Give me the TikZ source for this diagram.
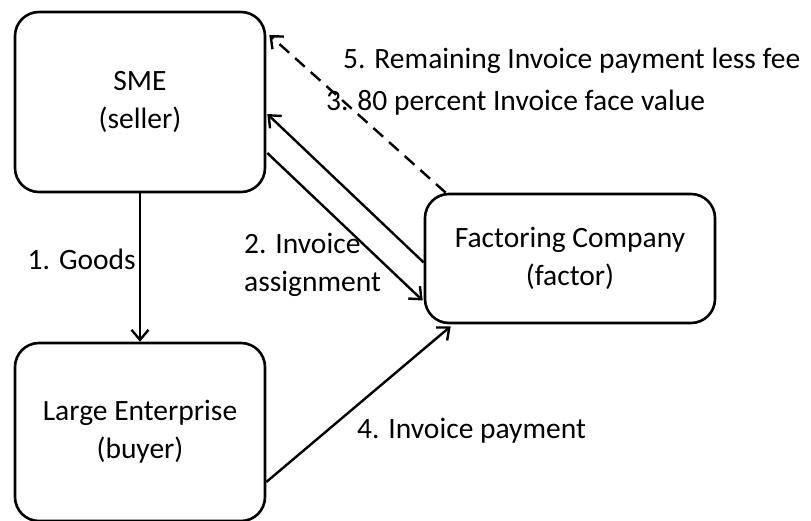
\documentclass[tikz,border=0pt]{standalone}
\usepackage{fontspec}
\setmainfont{Carlito}
\usetikzlibrary{arrows.meta,calc}
\begin{document}
\begin{tikzpicture}[x=1pt,y=-1pt,
  box/.style={draw,line width=2.6pt,rounded corners=24pt,align=center,inner sep=0pt,
    font=\fontsize{29.5}{38}\selectfont},
  lbl/.style={inner sep=0pt,font=\fontsize{29.5}{38}\selectfont},
  conn/.style={line width=2.4pt,-{Straight Barb[length=10pt,width=17pt,line width=2.4pt]}}]
\useasboundingbox (0,0) rectangle (811,520);
\node[box,minimum width=250pt,minimum height=180pt] (sme) at (140,102) {SME\\(seller)};
\node[box,minimum width=250pt,minimum height=178pt] (le) at (140,432) {Large Enterprise\\(buyer)};
\node[box,minimum width=290pt,minimum height=129pt] (fac) at (570,258.5) {Factoring Company\\(factor)};
\coordinate (s5) at ($(fac.north west)+(22,0)$);
\coordinate (e5) at ($(sme.east)+(3,-67)$);
\coordinate (s3) at ($(fac.west)+(0,4)$);
\coordinate (e3) at ($(sme.east)+(1,12)$);
\coordinate (s2) at ($(sme.east)+(1,51)$);
\coordinate (e2) at ($(fac.west)+(-1,42)$);
\coordinate (s4) at ($(le.east)+(0,50)$);
\coordinate (e4) at ($(fac.south west)+(27,2)$);
\draw[conn] (sme.south) -- (le.north);
\draw[conn,dash pattern=on 13pt off 8pt] (s5) -- (e5);
\draw[conn] (s3) -- (e3);
\draw[conn] (s2) -- (e2);
\draw[conn] (s4) -- (e4);
\node[lbl,anchor=east] (l1) at (136,259) {1. Goods};
\node[lbl,anchor=west,align=left] (l2) at (244,265) {2. Invoice\\assignment};
\node[lbl,anchor=west] (l3) at (326,103) {3. 80 percent Invoice face value};
\node[lbl,anchor=west] (l4) at (357,431) {4. Invoice payment};
\node[lbl,anchor=west] (l5) at (343,61) {5. Remaining Invoice payment less fee};
\end{tikzpicture}
\end{document}
